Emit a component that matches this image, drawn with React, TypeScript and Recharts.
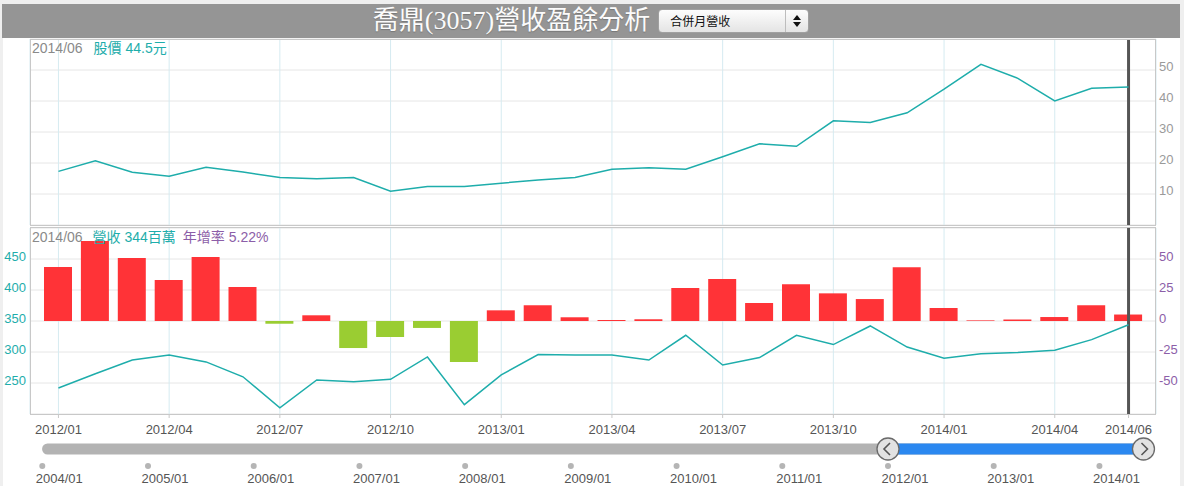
import React from 'react';
import {
  ComposedChart,
  Line,
  Bar,
  Cell,
  Scatter,
  XAxis,
  YAxis,
  CartesianGrid,
  ReferenceLine,
  ReferenceDot,
} from 'recharts';

// monthly data, 2012/01 .. 2014/06
const MONTHS = [
  '2012/01', '2012/02', '2012/03', '2012/04', '2012/05', '2012/06',
  '2012/07', '2012/08', '2012/09', '2012/10', '2012/11', '2012/12',
  '2013/01', '2013/02', '2013/03', '2013/04', '2013/05', '2013/06',
  '2013/07', '2013/08', '2013/09', '2013/10', '2013/11', '2013/12',
  '2014/01', '2014/02', '2014/03', '2014/04', '2014/05', '2014/06',
];
// 股價 (元)
const PRICE = [
  17.3, 20.7, 17.0, 15.7, 18.6, 17.1, 15.3, 14.9, 15.3, 10.9, 12.4, 12.4,
  13.5, 14.5, 15.3, 18.0, 18.5, 18.0, 22.0, 26.2, 25.4, 33.6, 33.1, 36.2,
  43.8, 51.8, 47.3, 40.0, 44.1, 44.5,
];
// 營收 (百萬)
const REVENUE = [
  242, 265, 287, 295, 284, 260, 210, 255, 252, 256, 292, 215,
  263, 296, 295, 295, 287, 327, 279, 291, 327, 312, 342, 308,
  290, 297, 299, 303, 320, 344,
];
// 年增率 (%)
const YOY = [
  43.5, 64.5, 50.8, 33.1, 51.6, 27.4, -2.2, 4.6, -21.8, -12.9, -5.6, -33.1,
  8.6, 12.7, 3.0, 0.8, 1.4, 26.6, 33.9, 14.5, 29.6, 22.3, 17.7, 43.3,
  10.5, 0.5, 1.2, 3.2, 12.7, 5.22,
];

const AXIS_MONTHS = [
  '2012/01', '2012/04', '2012/07', '2012/10', '2013/01', '2013/04',
  '2013/07', '2013/10', '2014/01', '2014/04', '2014/06',
];
const PRICE_TICKS = [10, 20, 30, 40, 50];
const REVENUE_TICKS = [250, 300, 350, 400, 450];
const YOY_TICKS = [-50, -25, 0, 25, 50];

// navigator
const NAV_YEARS = [2004, 2005, 2006, 2007, 2008, 2009, 2010, 2011, 2012, 2013, 2014];
const NAV_RANGE = [2004.05, 2014 + 5 / 12];
const NAV_SELECTED = [2012, 2014 + 5 / 12];

const TEAL = '#1eadab';
const PURPLE = '#8c5ea8';
const RED = '#ff3337';
const GREEN = '#9acd32';
const HGRID = '#e6e6e6';
const VGRID = '#d6ebf1';
const BORDER = '#c8c8c8';
const FONT = '"Liberation Sans", Arial, "Noto Sans CJK TC", sans-serif';

const priceRows = MONTHS.map((month, i) => ({ month, price: PRICE[i] }));
const revRows = MONTHS.map((month, i) => ({ month, revenue: REVENUE[i], yoy: YOY[i] }));
const LAST = MONTHS[MONTHS.length - 1];

const NAV_Y = 37;
const DOT_Y = 20;
const navTrack = NAV_RANGE.map((x) => ({ x, y: NAV_Y }));
const navSel = NAV_SELECTED.map((x) => ({ x, y: NAV_Y }));
const navDots = NAV_YEARS.map((x) => ({ x, y: DOT_Y, label: `${x}/01` }));

function YearDot(props: any) {
  const { cx, cy, payload } = props;
  const lx = Math.min(cx + 17, 1141);
  return (
    <g>
      <circle cx={cx} cy={cy} r={3} fill="#b5b5b5" />
      <text x={lx} y={cy + 17} textAnchor="middle" fontSize={13} fill="#555">
        {payload.label}
      </text>
    </g>
  );
}

function Handle(props: any) {
  const { cx, cy, dir } = props;
  const d =
    dir === 'left'
      ? `M${cx + 2},${cy - 6} L${cx - 4},${cy} L${cx + 2},${cy + 6}`
      : `M${cx - 2},${cy - 6} L${cx + 4},${cy} L${cx - 2},${cy + 6}`;
  return (
    <g>
      <circle cx={cx} cy={cy} r={11} fill="#e2e2e2" stroke="#6a6a6a" strokeWidth={1.3} />
      <path d={d} fill="none" stroke="#555" strokeWidth={1.6} />
    </g>
  );
}

export default function App() {
  return (
    <div
      style={{
        position: 'absolute',
        left: 0,
        top: 0,
        width: 1184,
        height: 486,
        overflow: 'hidden',
        background: '#efefef',
        fontFamily: FONT,
      }}
    >
      <div style={{ position: 'absolute', left: 3, top: 38, width: 1177, height: 448, background: '#fff' }} />

      {/* title bar */}
      <div
        style={{
          position: 'absolute',
          left: 2,
          top: 4,
          width: 1178,
          height: 34,
          background: '#959595',
          display: 'flex',
          alignItems: 'center',
          justifyContent: 'center',
        }}
      >
        <span
          style={{
            fontFamily: '"Liberation Serif", "Noto Sans CJK TC", serif',
            fontSize: 26,
            lineHeight: '34px',
            color: '#fbfbfb',
            textShadow: '0 1px 1px #777',
          }}
        >
          喬鼎(3057)營收盈餘分析
        </span>
        <div
          style={{
            marginLeft: 8,
            width: 151,
            height: 24,
            boxSizing: 'border-box',
            border: '1px solid #a0a0a0',
            borderRadius: 4,
            background: 'linear-gradient(#fdfdfd, #e4e4e4)',
            position: 'relative',
            fontSize: 12,
            color: '#111',
          }}
        >
          <span style={{ position: 'absolute', left: 11, top: 4, fontFamily: '"Noto Sans CJK TC", sans-serif', lineHeight: '14px' }}>
            合併月營收
          </span>
          <div style={{ position: 'absolute', left: 126, top: 0, width: 1, height: 22, background: '#bdbdbd' }} />
          <svg style={{ position: 'absolute', left: 133, top: 4 }} width={10} height={14}>
            <path d="M5,1 L9,6 L1,6 Z" fill="#111" />
            <path d="M1,8 L9,8 L5,13 Z" fill="#111" />
          </svg>
        </div>
      </div>

      {/* upper panel: price */}
      <div style={{ position: 'absolute', left: 0, top: 0 }}>
        <ComposedChart width={1184} height={226} data={priceRows} margin={{ top: 39, right: 0, bottom: 1, left: 30 }}>
          <CartesianGrid vertical={false} stroke={HGRID} />
          <CartesianGrid horizontal={false} stroke={VGRID} />
          <XAxis dataKey="month" hide scale="band" padding={{ left: 10, right: 9 }} ticks={AXIS_MONTHS} interval={0} />
          <YAxis
            orientation="right"
            width={28}
            domain={[0, 60]}
            ticks={PRICE_TICKS}
            axisLine={false}
            tickLine={false}
            tickSize={0}
            tickMargin={3}
            tick={{ fill: '#9a9a9a', fontSize: 13, dy: -4 }}
          />
          <ReferenceLine x={LAST} stroke="#555" strokeWidth={3} />
          <Line dataKey="price" stroke={TEAL} strokeWidth={1.5} dot={false} isAnimationActive={false} />
        </ComposedChart>
      </div>
      <div style={{ position: 'absolute', left: 30, top: 39, width: 1126, height: 187, boxSizing: 'border-box', border: `1px solid ${BORDER}` }} />

      {/* lower panel: revenue + yoy */}
      <div style={{ position: 'absolute', left: 0, top: 220 }}>
        <ComposedChart width={1184} height={220} data={revRows} margin={{ top: 8, right: 0, bottom: 0, left: 0 }}>
          <CartesianGrid vertical={false} stroke={HGRID} yAxisId="rev" />
          <CartesianGrid horizontal={false} stroke={VGRID} yAxisId="rev" />
          <XAxis
            dataKey="month"
            padding={{ left: 10, right: 9 }}
            ticks={AXIS_MONTHS}
            interval={0}
            height={26}
            axisLine={false}
            tickLine={{ stroke: BORDER }}
            tickSize={4}
            tickMargin={7}
            tick={{ fill: '#555', fontSize: 13 }}
          />
          <YAxis
            yAxisId="rev"
            width={30}
            domain={[200, 500]}
            ticks={REVENUE_TICKS}
            axisLine={false}
            tickLine={false}
            tickSize={0}
            tickMargin={4}
            tick={{ fill: TEAL, fontSize: 13, dy: -3 }}
          />
          <YAxis
            yAxisId="yoy"
            orientation="right"
            width={28}
            domain={[-75, 75]}
            ticks={YOY_TICKS}
            axisLine={false}
            tickLine={false}
            tickSize={0}
            tickMargin={3}
            tick={{ fill: PURPLE, fontSize: 13, dy: -3 }}
          />
          <ReferenceLine yAxisId="rev" x={LAST} stroke="#555" strokeWidth={3} />
          <Bar yAxisId="yoy" dataKey="yoy" barSize={28} isAnimationActive={false}>
            {revRows.map((r) => (
              <Cell key={r.month} fill={r.yoy >= 0 ? RED : GREEN} />
            ))}
          </Bar>
          <Line yAxisId="rev" dataKey="revenue" stroke={TEAL} strokeWidth={1.5} dot={false} isAnimationActive={false} />
        </ComposedChart>
      </div>
      <div style={{ position: 'absolute', left: 30, top: 227, width: 1126, height: 188, boxSizing: 'border-box', border: `1px solid ${BORDER}` }} />

      {/* legends */}
      <div style={{ position: 'absolute', left: 32, top: 40, fontSize: 14, lineHeight: '17px', whiteSpace: 'nowrap' }}>
        <span style={{ color: '#8a8a8a' }}>2014/06</span>
        <span style={{ color: TEAL, marginLeft: 11 }}>股價 44.5元</span>
      </div>
      <div style={{ position: 'absolute', left: 32, top: 229, fontSize: 14, lineHeight: '17px', whiteSpace: 'nowrap' }}>
        <span style={{ color: '#8a8a8a' }}>2014/06</span>
        <span style={{ color: TEAL, marginLeft: 10 }}>營收 344百萬</span>
        <span style={{ color: PURPLE, marginLeft: 7 }}>年增率 5.22%</span>
      </div>

      {/* navigator */}
      <div style={{ position: 'absolute', left: 0, top: 436 }}>
        <ComposedChart width={1184} height={50} margin={{ top: 0, right: 0, bottom: 0, left: 0 }}>
          <XAxis type="number" dataKey="x" domain={[2003.6, 2014.8]} hide allowDataOverflow />
          <YAxis type="number" dataKey="y" domain={[0, 50]} hide />
          <Line data={navTrack} dataKey="y" stroke="#b3b3b3" strokeWidth={11} strokeLinecap="round" dot={false} isAnimationActive={false} />
          <Line data={navSel} dataKey="y" stroke="#2b88f0" strokeWidth={11} dot={false} isAnimationActive={false} />
          <Scatter data={navDots} dataKey="y" shape={<YearDot />} isAnimationActive={false} />
          <ReferenceDot x={NAV_SELECTED[0]} y={NAV_Y} shape={(p: any) => <Handle {...p} dir="left" />} />
          <ReferenceDot x={NAV_SELECTED[1]} y={NAV_Y} shape={(p: any) => <Handle {...p} dir="right" />} />
        </ComposedChart>
      </div>
    </div>
  );
}
